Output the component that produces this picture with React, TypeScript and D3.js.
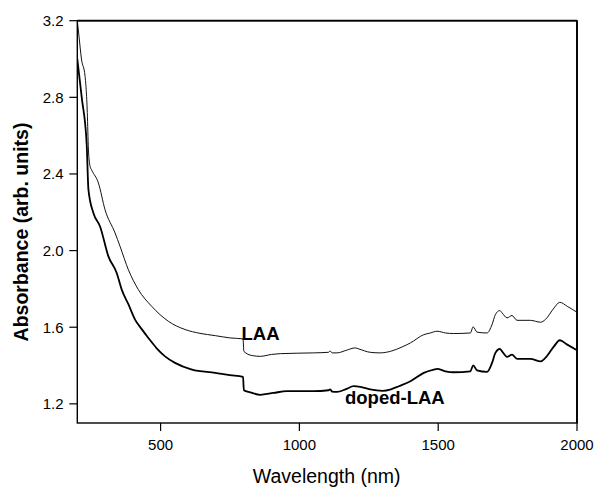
import React from "react";
import * as d3 from "d3";

const wavelengthLAA = [200, 206, 215, 228, 236, 240, 246, 252, 276, 300, 336, 354, 384, 420, 468, 528, 588, 642, 697, 751, 797, 800, 830, 859, 900, 931, 1051, 1105, 1111, 1118, 1135, 1170, 1201, 1215, 1255, 1290, 1328, 1370, 1400, 1448, 1472, 1496, 1526, 1556, 1616, 1626, 1640, 1676, 1694, 1706, 1722, 1730, 1748, 1766, 1784, 1832, 1869, 1886, 1917, 1938, 1965, 2000];
const absorbanceLAA = [3.2, 3.12, 3.0, 2.91, 2.72, 2.53, 2.44, 2.42, 2.353, 2.213, 2.092, 2.022, 1.9, 1.796, 1.709, 1.631, 1.588, 1.568, 1.556, 1.544, 1.539, 1.474, 1.452, 1.448, 1.458, 1.462, 1.466, 1.469, 1.476, 1.466, 1.466, 1.48, 1.492, 1.486, 1.469, 1.466, 1.474, 1.497, 1.518, 1.561, 1.57, 1.579, 1.57, 1.567, 1.57, 1.602, 1.574, 1.57, 1.614, 1.666, 1.687, 1.675, 1.649, 1.661, 1.636, 1.636, 1.626, 1.64, 1.7, 1.73, 1.709, 1.678];

const wavelengthDoped = [200, 216, 234, 240, 258, 282, 312, 342, 360, 384, 408, 432, 456, 486, 516, 552, 613, 697, 750, 797, 800, 823, 859, 907, 955, 1051, 1105, 1111, 1118, 1135, 1170, 1195, 1219, 1255, 1300, 1330, 1358, 1400, 1448, 1484, 1496, 1526, 1556, 1616, 1626, 1640, 1676, 1694, 1706, 1722, 1730, 1748, 1766, 1784, 1832, 1869, 1886, 1917, 1938, 1965, 2000];
const absorbanceDoped = [3.0, 2.8, 2.55, 2.32, 2.196, 2.126, 1.97, 1.883, 1.796, 1.72, 1.64, 1.59, 1.544, 1.49, 1.448, 1.414, 1.379, 1.362, 1.35, 1.341, 1.271, 1.26, 1.247, 1.257, 1.266, 1.266, 1.271, 1.276, 1.264, 1.262, 1.278, 1.292, 1.289, 1.275, 1.268, 1.276, 1.292, 1.318, 1.362, 1.379, 1.383, 1.37, 1.365, 1.37, 1.401, 1.375, 1.367, 1.414, 1.466, 1.487, 1.474, 1.445, 1.457, 1.435, 1.435, 1.422, 1.44, 1.5, 1.532, 1.509, 1.48];

const xTicks = [500, 1000, 1500, 2000];
const yTicks = [1.2, 1.6, 2.0, 2.4, 2.8, 3.2];
const yTickLabels = ["1.2", "1.6", "2.0", "2.4", "2.8", "3.2"];

const W = 595;
const H = 487;
const left = 77.3;
const right = 577;
const top = 20.7;
const bottom = 423;
const FONT = "Arial, 'Liberation Sans', Helvetica, sans-serif";

export default function App() {
  const x = d3.scaleLinear().domain([200, 2000]).range([left, right]);
  const y = d3.scaleLinear().domain([1.1, 3.2]).range([bottom, top]);
  const line = d3
    .line<[number, number]>()
    .x((d) => x(d[0]))
    .y((d) => y(d[1]))
    .curve(d3.curveMonotoneX);
  const laa = line(wavelengthLAA.map((w, i) => [w, absorbanceLAA[i]]) as [number, number][]) || "";
  const doped = line(wavelengthDoped.map((w, i) => [w, absorbanceDoped[i]]) as [number, number][]) || "";

  return (
    <svg
      width={W}
      height={H}
      style={{ position: "absolute", left: 0, top: 0, background: "#fff" }}
      fontFamily={FONT}
    >
      <rect x={0} y={0} width={W} height={H} fill="#fff" />
      <defs>
        <clipPath id="plotclip">
          <rect x={left} y={top} width={right - left} height={bottom - top} />
        </clipPath>
      </defs>
      <g clipPath="url(#plotclip)">
        <path d={laa} fill="none" stroke="#111" strokeWidth={1} strokeLinejoin="round" />
        <path d={doped} fill="none" stroke="#000" strokeWidth={1.8} strokeLinejoin="round" />
      </g>
      {/* frame */}
      <rect x={left} y={top} width={right - left} height={bottom - top} fill="none" stroke="#000" strokeWidth={1.4} />
      <line x1={left} x2={right} y1={top} y2={top} stroke="#000" strokeWidth={1.8} />
      <line x1={right} x2={right} y1={top} y2={bottom} stroke="#000" strokeWidth={1.8} />
      {/* y ticks */}
      {yTicks.map((t, i) => (
        <g key={"y" + t}>
          <line x1={left - 8} x2={left} y1={y(t)} y2={y(t)} stroke="#000" strokeWidth={1.2} />
          <text x={63.5} y={y(t)} dy="0.36em" textAnchor="end" fontSize={15} fill="#000">
            {yTickLabels[i]}
          </text>
        </g>
      ))}
      {/* x ticks */}
      {xTicks.map((t) => (
        <g key={"x" + t}>
          <line x1={x(t)} x2={x(t)} y1={bottom} y2={bottom + 8} stroke="#000" strokeWidth={1.2} />
          <text x={x(t)} y={450} textAnchor="middle" fontSize={15} fill="#000">
            {t}
          </text>
        </g>
      ))}
      <text x={326.7} y={482.7} textAnchor="middle" fontSize={19.5} fill="#000">
        Wavelength (nm)
      </text>
      <text
        transform={`translate(27.5, 232) rotate(-90)`}
        textAnchor="middle"
        fontSize={19.5}
        fontWeight="bold"
        fill="#000"
      >
        Absorbance (arb. units)
      </text>
      <text x={241.5} y={340} fontSize={18.5} fontWeight="bold" fill="#000">
        LAA
      </text>
      <text x={345} y={404} fontSize={18.5} fontWeight="bold" fill="#000">
        doped-LAA
      </text>
    </svg>
  );
}
